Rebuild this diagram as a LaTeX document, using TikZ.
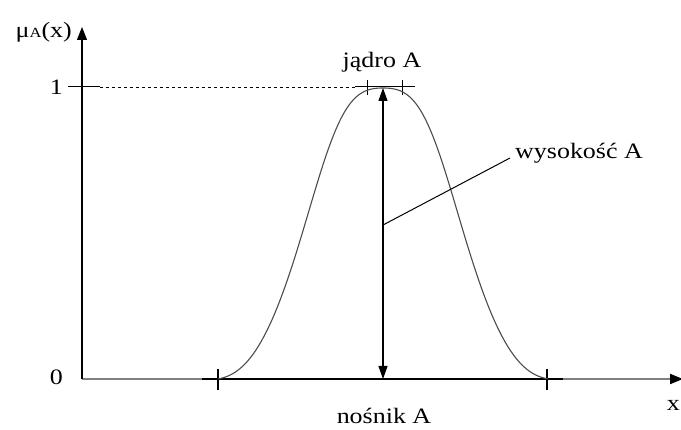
\documentclass[tikz,border=0pt]{standalone}
\usepackage{fontspec}
\usepackage{graphicx}
\setmainfont{Liberation Serif}
\usetikzlibrary{arrows.meta}
\newcommand{\wtxt}[1]{\scalebox{1.18}[1]{#1}}
\begin{document}
\begin{tikzpicture}[x=1pt,y=-1pt,
  lbl/.style={inner sep=0pt,font=\fontsize{22}{24}\selectfont},
  axis/.style={line width=1.3pt},
  tip/.style={-{Triangle[length=13pt,width=10pt,color=black]}},
  tickmark/.style={line width=1.3pt},
  declare function={du(\u)=(\u-383)/100;
    bt(\u)=min(abs(\u-383)/165,1);
    bellA(\u)=(exp(-1.31*du(\u)^2*(1-exp(-(du(\u)*1.613)^2)))-0.028)/0.972;
    bellB(\u)=0.4*(1+cos(180*bt(\u)))/2+0.6*(1-(6*bt(\u)^5-15*bt(\u)^4+10*bt(\u)^3));
    bell(\u)=0.5*bellA(\u)+0.5*bellB(\u);}]
\useasboundingbox (0,0) rectangle (681,430);
% coordinates
\coordinate (O) at (82,379);
\coordinate (Ytop) at (82,27);
\coordinate (Xend) at (683,379);
\coordinate (S1) at (202,379);
\coordinate (S2) at (563,379);
\coordinate (P) at (383,88);
\coordinate (Pb) at (383,379);
\coordinate (L1) at (383,225);
\coordinate (L2) at (510,158);
% x axis
\draw[line width=2pt,black!50,tip] (O) -- (Xend);
\draw[line width=2.6pt] (S1) -- (S2);
\draw[tickmark] (218,369) -- (218,390);
\draw[tickmark] (547,369) -- (547,390);
% y axis
\draw[axis,tip] (O) -- (Ytop);
\draw[line width=1pt] (68,87) -- (100,87);
\draw[dashed,line width=0.6pt] (100,87) -- (355,87);
\draw[line width=1pt] (355,87) -- (415,87);
\draw[line width=1pt] (367,80) -- (367,95);
\draw[line width=1pt] (402,80) -- (402,95);
% curve
\draw[line width=1.1pt,black!70,domain=218:548,samples=111,smooth]
  plot (\x,{379-291*bell(\x)});
% height arrow
\draw[line width=1.2pt,{Triangle[length=13pt,width=9pt]}-{Triangle[length=13pt,width=9pt]}] (P) -- (Pb);
% leader
\draw[line width=1pt] (L1) -- (L2);
% labels
\node[lbl,anchor=east] (mu) at (72,32) {\wtxt{μ{\fontsize{14}{14}\selectfont A}(x)}};
\node[lbl,anchor=east] (one) at (63,87) {\wtxt{1}};
\node[lbl,anchor=east] (zero) at (63,377) {\wtxt{0}};
\node[lbl] (jadro) at (382,62) {\wtxt{jądro A}};
\node[lbl,anchor=west] (wys) at (515,153) {\wtxt{wysokość A}};
\node[lbl] (nos) at (384,416) {\wtxt{nośnik A}};
\node[lbl,anchor=east] (xl) at (680,405) {\wtxt{x}};
\end{tikzpicture}
\end{document}
